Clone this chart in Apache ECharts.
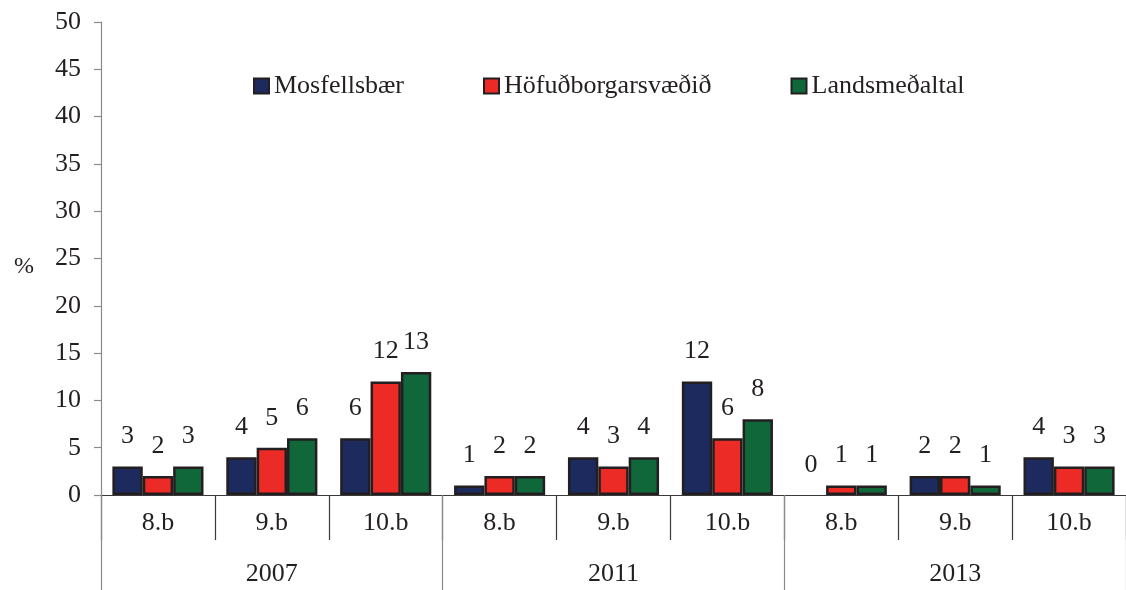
<!DOCTYPE html>
<html>
<head>
<meta charset="utf-8">
<script src="https://cdn.jsdelivr.net/npm/echarts@6/dist/echarts.min.js"></script>
<style>html,body{margin:0;padding:0;background:#fff;}#c{width:1126px;height:590px;}</style>
</head>
<body>
<div id="c"></div>
<script>
const grades = ['8.b','9.b','10.b','8.b','9.b','10.b','8.b','9.b','10.b'];
const years = ['2007','2011','2013'];
const seriesNames = ['Mosfellsbær','Höfuðborgarsvæðið','Landsmeðaltal'];
const mosfellsbaer = [3,4,6,1,4,12,0,2,4];
const hofudborgarsvaedid = [2,5,12,2,3,6,1,2,3];
const landsmedaltal = [3,6,13,2,4,8,1,1,3];
const yTicks = [0,5,10,15,20,25,30,35,40,45,50];
const colors = ['#1c2a5e','#ec2a26','#10673a'];

const FONT = '"Liberation Serif", "Times New Roman", serif';
const FS = 26;
const TXT = '#231f20';
const values = [mosfellsbaer, hofudborgarsvaedid, landsmedaltal];

const chart = echarts.init(document.getElementById('c'), null, {renderer:'canvas'});
chart.setOption({
  animation:false,
  backgroundColor:'#ffffff',
  textStyle:{fontFamily:FONT},
  grid:{left:101, top:22, width:1033, height:473, containLabel:false},
  legend:{
    left:248, top:68, itemGap:79, itemWidth:15, itemHeight:15,
    icon:'rect',
    textStyle:{fontFamily:FONT, fontSize:FS, color:TXT},
    data:seriesNames,
    itemStyle:{borderColor:'#231f20', borderWidth:2}
  },
  graphic:[{type:'text', left:14, top:255, style:{text:'%', font:'24px "Liberation Serif"', fill:TXT}}],
  xAxis:[
    {type:'category', data:grades, position:'bottom',
     axisLine:{show:true, lineStyle:{color:'#3a3a3a', width:1.2}},
     axisTick:{show:true, length:45, interval:0, alignWithLabel:false, lineStyle:{color:'#3a3a3a', width:1.2}},
     axisLabel:{interval:0, margin:15, fontFamily:FONT, fontSize:FS, color:TXT},
     splitLine:{show:false}},
    {type:'category', data:years, position:'bottom',
     axisLine:{show:false},
     axisTick:{show:true, length:95, interval:0, lineStyle:{color:'#8a8a8a', width:1.2}},
     axisLabel:{interval:0, margin:66, fontFamily:FONT, fontSize:FS, color:TXT},
     splitLine:{show:false}}
  ],
  yAxis:{type:'value', min:yTicks[0], max:yTicks[yTicks.length-1], interval:yTicks[1]-yTicks[0],
    axisLine:{show:true, lineStyle:{color:'#8a8a8a', width:1.2}},
    axisTick:{show:true, length:7, lineStyle:{color:'#8a8a8a', width:1.2}},
    axisLabel:{margin:20, fontFamily:FONT, fontSize:FS, color:TXT},
    splitLine:{show:false}},
  series: seriesNames.map((n,i)=>({
    name:n, type:'bar', xAxisIndex:0,
    data:values[i].map(v=>({value:v, itemStyle: v===0 ? {borderWidth:0} : undefined})),
    barGap:'0%', barCategoryGap:'20%',
    itemStyle:{color:colors[i], borderColor:'#231f20', borderWidth:2.5},
    label:{show:true, position:'top', distance:17, fontFamily:FONT, fontSize:FS, color:TXT}
  }))
});
</script>
</body>
</html>
